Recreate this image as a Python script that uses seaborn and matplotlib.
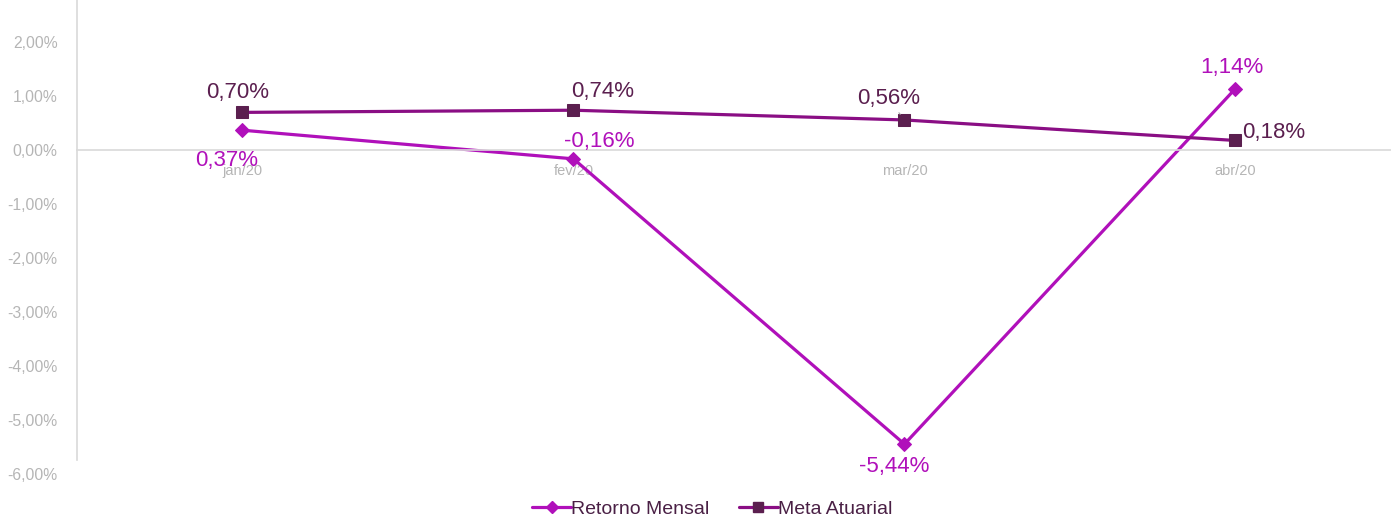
import numpy as np
import pandas as pd
import matplotlib
matplotlib.use("Agg")
import matplotlib.pyplot as plt
import seaborn as sns
from matplotlib.lines import Line2D

# data
months = ["jan/20", "fev/20", "mar/20", "abr/20"]
retorno = [0.37, -0.16, -5.44, 1.14]
meta = [0.70, 0.74, 0.56, 0.18]
yticks = [2, 1, 0, -1, -2, -3, -4, -5, -6]

# label offsets in pixels (dx, dy) from each point
retornoOff = [(-16, -30), (26, 17), (-10, -22), (-4, 21)]
metaOff = [(-5, 20), (29, 19), (-16, 21), (38, 8)]

cRet = "#B010BA"
cMetaLine = "#8A0E84"
cMetaMk = "#5B1F4F"
cGrid = "#D9D9D9"
cTick = "#B5B5B5"

sns.set_theme(style="white")
plt.rcParams["font.family"] = ["Liberation Sans", "DejaVu Sans"]

df = pd.DataFrame({
    "mes": months * 2,
    "valor": retorno + meta,
    "serie": ["Retorno Mensal"] * 4 + ["Meta Atuarial"] * 4,
})

fig = plt.figure(figsize=(13.91, 5.17), dpi=100)
ax = fig.add_axes([77 / 1391, 41 / 517, 1 - 77 / 1391, 1 - 41 / 517])

sns.lineplot(data=df, x="mes", y="valor", hue="serie", style="serie",
             palette={"Retorno Mensal": cRet, "Meta Atuarial": cMetaLine},
             markers={"Retorno Mensal": "D", "Meta Atuarial": "s"},
             dashes=False, linewidth=2.3, markersize=8, ax=ax, legend=False,
             sort=False)

for ln in ax.lines:
    if ln.get_color() == cMetaLine:
        ln.set_markerfacecolor(cMetaMk)
        ln.set_markeredgecolor(cMetaMk)
        ln.set_markersize(8.5)
    else:
        ln.set_markerfacecolor(cRet)
        ln.set_markeredgecolor(cRet)
        ln.set_markersize(7.5)

ax.set_yticks(yticks)
ax.set_yticklabels([("%.2f%%" % v).replace(".", ",") for v in yticks],
                   fontsize=11.3, color=cTick)
ax.set_xlim(-0.5, 3.47)
ax.set_ylim(-6.03, 2.78)
ax.tick_params(axis="y", length=0, pad=14)
ax.tick_params(axis="x", which="major", length=0, pad=10, labelsize=10.5,
               labelcolor=cTick)
ax.set_xticks([0.5, 1.5, 2.5], minor=True)
ax.tick_params(axis="x", which="minor", length=5, color=cGrid, width=1,
               direction="out")
ax.set_xlabel("")
ax.set_ylabel("")

for s in ["top", "right"]:
    ax.spines[s].set_visible(False)
ax.spines["bottom"].set_position(("data", 0))
ax.spines["bottom"].set_color(cGrid)
ax.spines["left"].set_color(cGrid)
ax.spines["left"].set_bounds(-5.74, 2.78)
ax.spines["left"].set_linewidth(1.2)
ax.spines["bottom"].set_linewidth(1.2)

for i, v in enumerate(retorno):
    ax.annotate(("%.2f%%" % v).replace(".", ","), (i, v),
                xytext=retornoOff[i], textcoords="offset pixels",
                ha="center", va="center", fontsize=16, color=cRet)
for i, v in enumerate(meta):
    arrow = None
    if i == 2:
        arrow = dict(arrowstyle="-", color="#A6A6A6", lw=0.8,
                     shrinkA=7, shrinkB=5)
    ax.annotate(("%.2f%%" % v).replace(".", ","), (i, v),
                xytext=metaOff[i], textcoords="offset pixels",
                ha="center", va="center", fontsize=16, color=cMetaMk,
                arrowprops=arrow)

handles = [
    Line2D([], [], color=cRet, lw=2.3, marker="D", markersize=6,
           markerfacecolor=cRet, markeredgecolor=cRet),
    Line2D([], [], color=cMetaLine, lw=2.3, marker="s", markersize=7,
           markerfacecolor=cMetaMk, markeredgecolor=cMetaMk),
]
leg = fig.legend(handles, ["Retorno Mensal", "Meta Atuarial"], loc="center",
                 bbox_to_anchor=(0.512, 0.015), ncol=2, frameon=False,
                 fontsize=14, handlelength=2.0, handletextpad=0.0,
                 columnspacing=1.5)
for t in leg.get_texts():
    t.set_color("#4A2045")

fig.savefig("out.png", dpi=100)
